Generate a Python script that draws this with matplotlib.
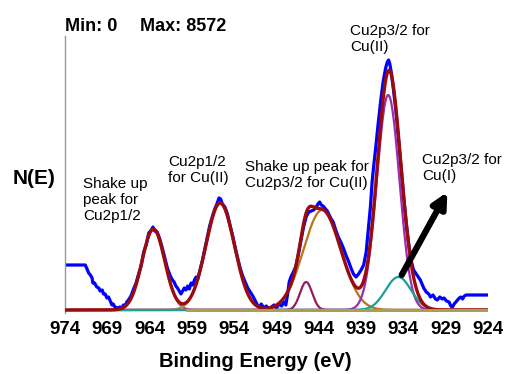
import numpy as np
import matplotlib
matplotlib.use("Agg")
from matplotlib import pyplot as plt
from matplotlib import font_manager

# measured spectrum (binding energy in eV, intensity in arbitrary units)
blue_ev = [974.0, 971.6, 971.4, 971.2, 971.0, 970.8, 970.7, 970.5, 970.25, 970.0,
           969.85, 969.6, 969.45, 969.25, 969.05, 968.85, 968.65, 968.45, 968.3, 968.1,
           967.8, 967.5, 967.3, 967.1, 966.9, 966.7, 966.5, 966.2, 965.9, 965.6,
           965.3, 965.0, 964.7, 964.4, 964.1, 963.8, 963.6, 963.4, 963.1, 962.8,
           962.5, 962.2, 961.9, 961.6, 961.3, 961.1, 960.9, 960.7, 960.5, 960.3,
           960.1, 959.9, 959.7, 959.5, 959.3, 959.1, 958.9, 958.7, 958.5, 958.3,
           958.1, 957.8, 957.5, 957.2, 956.9, 956.6, 956.3, 956.0, 955.8, 955.6,
           955.4, 955.1, 954.8, 954.5, 954.2, 953.9, 953.6, 953.3, 953.0, 952.7,
           952.4, 952.1, 951.8, 951.5, 951.2, 951.0, 950.8, 950.5, 950.2, 949.9,
           949.6, 949.3, 949.0, 948.7, 948.4, 948.1, 947.9, 947.7, 947.5, 947.3,
           947.0, 946.7, 946.4, 946.1, 945.8, 945.5, 945.2, 944.9, 944.6, 944.3,
           944.1, 943.9, 943.7, 943.5, 943.0, 942.6, 942.3, 942.0, 941.7, 941.4,
           941.1, 940.8, 940.5, 940.2, 939.9, 939.6, 939.3, 939.0, 938.7, 938.4,
           938.1, 937.9, 937.7, 937.5, 937.3, 937.0, 936.7, 936.4, 936.1, 935.9,
           935.75, 935.6, 935.4, 935.2, 934.9, 934.6, 934.3, 934.0, 933.7, 933.4,
           933.1, 932.8, 932.4, 932.0, 931.6, 931.3, 931.0, 930.8, 930.5, 930.2,
           930.0, 929.7, 929.4, 929.2, 928.9, 928.6, 928.4, 928.2, 928.0, 927.8,
           927.6, 927.4, 927.2, 927.0, 926.8, 926.6, 926.0, 924.0]
blue_int = [45, 45, 41, 37, 35, 32, 27, 27, 23, 22,
            19, 20, 16, 16, 12, 13, 9, 5, 6, 3,
            2, 3, 1, 5, 4, 8, 10, 14, 21, 27,
            36, 44, 58, 65, 77, 80, 83, 79, 78, 71,
            62, 52, 42, 35, 30, 28, 24, 22, 19, 16,
            19, 22, 20, 24, 21, 27, 25, 30, 33, 31,
            38, 48, 60, 72, 84, 93, 101, 107, 112, 111,
            106, 103, 96, 85, 75, 63, 52, 42, 34, 28,
            22, 18, 14, 9, 4, 3, 6, 2, 4, 1,
            3, 5, 2, 6, 4, 8, 5, 15, 28, 33,
            38, 44, 56, 70, 83, 93, 98, 99, 100, 103,
            106, 108, 105, 104, 99, 92, 88, 80, 73, 68,
            62, 55, 49, 42, 36, 33, 36, 40, 45, 58,
            85, 103, 128, 145, 160, 185, 208, 228, 242, 248,
            250, 246, 236, 222, 200, 173, 144, 116, 90, 68,
            50, 40, 35, 30, 22, 18, 16, 13, 15, 11,
            10, 13, 11, 12, 9, 8, 4, 3, 6, 8,
            10, 12, 13, 11, 14, 15, 15, 15]

# fitted components: centre (eV), height, sigma (eV)
peak_centres = [963.55, 955.66, 945.5, 943.6, 935.8, 934.6]
peak_heights = [81, 107, 28, 100, 215, 33]
peak_sigmas = [1.34, 1.68, 0.72, 2.2, 1.33, 1.5]
peak_colors = ["#c04898", "#9e9a48", "#8e1e5e", "#b8741a", "#9a2db0", "#1e9e96"]

background_ev = [959.6, 924.0]
background_int = [0, 0]

tick_values = list(range(974, 923, -5))

names = {f.name for f in font_manager.fontManager.ttflist}
narrow = "Liberation Sans Narrow" if "Liberation Sans Narrow" in names else "Liberation Sans"
plt.rcParams["font.family"] = ["Liberation Sans", "DejaVu Sans"]

fig = plt.figure(figsize=(5.05, 3.74), dpi=100)
ax = fig.add_axes([65 / 505, 61 / 374, 423 / 505, 277 / 374])
ax.set_xlim(974, 924)
ax.set_ylim(-3, 274)

ev = np.linspace(974, 924, 1001)
envelope = np.zeros_like(ev)
for c, h, s, col in zip(peak_centres, peak_heights, peak_sigmas, peak_colors):
    comp = h * np.exp(-(ev - c) ** 2 / (2 * s ** 2))
    envelope += comp
    ax.plot(ev, comp, color=col, lw=1.6, zorder=3)

ax.plot(blue_ev, blue_int, color="#0000ff", lw=2.3, zorder=2)
ax.plot(ev, envelope, color="#9b0b0b", lw=2.4, zorder=4)
ax.plot(background_ev, background_int, color="#a8a050", lw=2.2, zorder=5)

for sp in ["top", "right", "bottom"]:
    ax.spines[sp].set_visible(False)
ax.spines["left"].set_color("#999999")
ax.spines["left"].set_linewidth(1.0)
ax.set_yticks([])
ax.set_xticks(tick_values)
ax.set_xticklabels([str(t) for t in tick_values], family=[narrow, "DejaVu Sans"],
                   fontweight="bold", fontsize=13.5)
ax.tick_params(axis="x", length=0, pad=6)

fig.text(255 / 505, 1 - 367 / 374, "Binding Energy (eV)", ha="center", va="baseline",
         fontsize=14.5, fontweight="bold")
fig.text(13 / 505, 1 - 178 / 374, "N(E)", ha="left", va="center",
         fontsize=15, fontweight="bold")
fig.text(65 / 505, 1 - 31 / 374, "Min: 0", ha="left", va="baseline",
         fontsize=13, fontweight="bold", family=[narrow, "DejaVu Sans"])
fig.text(140 / 505, 1 - 31 / 374, "Max: 8572", ha="left", va="baseline",
         fontsize=13, fontweight="bold", family=[narrow, "DejaVu Sans"])

fs = 11
ax.text(971.9, 133, "Shake up\npeak for\nCu2p1/2", ha="left", va="top", fontsize=fs,
        linespacing=1.2, clip_on=False)
ax.text(961.8, 155, "Cu2p1/2\nfor Cu(II)", ha="left", va="top", fontsize=fs,
        linespacing=1.2, clip_on=False)
ax.text(952.7, 150, "Shake up peak for\nCu2p3/2 for Cu(II)", ha="left", va="top",
        fontsize=fs, linespacing=1.2, clip_on=False)
ax.text(940.3, 286, "Cu2p3/2 for\nCu(II)", ha="left", va="top", fontsize=fs,
        linespacing=1.2, clip_on=False)
ax.text(931.8, 157, "Cu2p3/2 for\nCu(I)", ha="left", va="top", fontsize=fs,
        linespacing=1.2, clip_on=False)

ax.annotate("", xy=(928.8, 118), xytext=(934.2, 35),
            arrowprops=dict(arrowstyle="-|>", lw=4.5, color="black",
                            mutation_scale=22, shrinkA=0, shrinkB=0),
            zorder=6)

fig.savefig("out.png", dpi=100)
